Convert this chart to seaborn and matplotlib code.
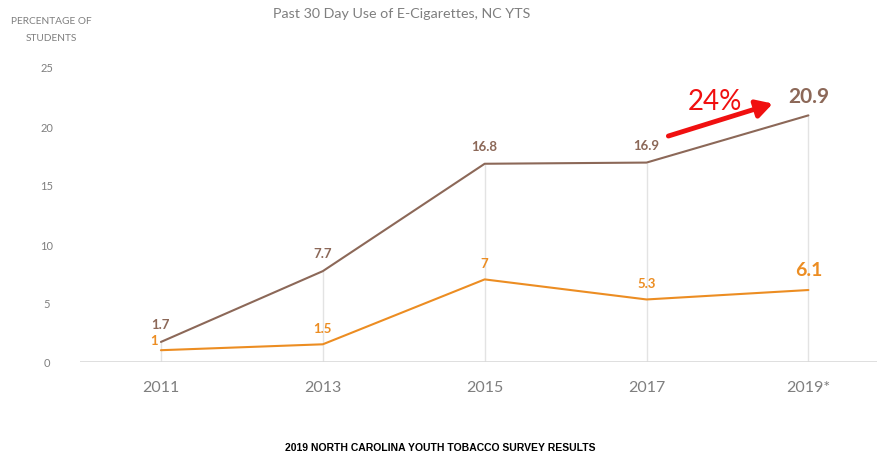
import matplotlib
matplotlib.use("Agg")
import matplotlib.pyplot as plt
import seaborn as sns
import pandas as pd

# données
years = ["2011", "2013", "2015", "2017", "2019*"]
high_school = [1.7, 7.7, 16.8, 16.9, 20.9]
middle_school = [1.0, 1.5, 7.0, 5.3, 6.1]
y_ticks = [0, 5, 10, 15, 20, 25]
increase_label = "24%"

BROWN = "#8C6858"
ORANGE = "#EC8D22"
GREY = "#7F7F7F"

sns.set_theme(style="white")
plt.rcParams["font.family"] = ["Lato", "DejaVu Sans"]

df = pd.DataFrame({
    "year": years * 2,
    "value": high_school + middle_school,
    "group": ["high"] * len(years) + ["middle"] * len(years),
})

fig = plt.figure(figsize=(8.78, 4.56), dpi=100)
ax = fig.add_axes([80 / 878, 93 / 456, 1 - 80 / 878, 295 / 456])

# lignes verticales du point le plus haut jusqu'à l'axe
tops = [max(a, b) for a, b in zip(high_school, middle_school)]
ax.vlines(range(len(years)), 0, tops, color="#E3E3E3", linewidth=1, zorder=0)
ax.axhline(0, color="#D9D9D9", linewidth=1.2, zorder=0)

sns.lineplot(data=df, x="year", y="value", hue="group",
             palette={"high": BROWN, "middle": ORANGE},
             linewidth=1.5, legend=False, ax=ax, sort=False)

ax.set_xlim(-0.5, 4.43)
ax.set_ylim(0, 25)
ax.set_yticks(y_ticks)
ax.set_yticklabels([str(t) for t in y_ticks])
ax.set_xlabel("")
ax.set_ylabel("")
for s in ax.spines.values():
    s.set_visible(False)
ax.tick_params(axis="x", length=0, pad=13, labelsize=11.5, labelcolor=GREY)
ax.tick_params(axis="y", length=0, pad=24, labelsize=8, labelcolor=GREY)
for lab in ax.get_yticklabels():
    lab.set_horizontalalignment("center")

# étiquettes de valeurs
for i, v in enumerate(high_school):
    last = i == len(years) - 1
    ax.annotate(f"{v:g}", (i, v), xytext=(0, 9 if last else 12),
                textcoords="offset pixels", ha="center", va="bottom",
                color=BROWN, fontsize=15 if last else 9.5, fontweight="bold")
for i, v in enumerate(middle_school):
    last = i == len(years) - 1
    dx, dy = (-7, 4) if i == 0 else (0, 10)
    ax.annotate(f"{v:g}", (i, v), xytext=(dx, 12 if last else dy),
                textcoords="offset pixels", ha="center", va="bottom",
                color=ORANGE, fontsize=14 if last else 9.5, fontweight="bold")

# flèche rouge d'augmentation
ax.annotate("", xy=(3.78, 21.9), xytext=(3.135, 19.15),
            arrowprops=dict(arrowstyle="-|>,head_length=0.8,head_width=0.45",
                            color="#F01010", lw=3.5, shrinkA=0, shrinkB=0))
ax.text(3.42, 21.4, increase_label, color="#F01010", fontsize=20,
        ha="center", va="baseline")

fig.text(402 / 878, 1 - 14 / 456, "Past 30 Day Use of E-Cigarettes, NC YTS",
         ha="center", va="center", color=GREY, fontsize=10.3)
fig.text(51 / 878, 1 - 30 / 456, "PERCENTAGE OF\nSTUDENTS", ha="center",
         va="center", color=GREY, fontsize=7.3, linespacing=2.1)
fig.text(440 / 878, 1 - 448 / 456, "2019 NORTH CAROLINA YOUTH TOBACCO SURVEY RESULTS",
         ha="center", va="center", color="black", fontsize=7.5,
         fontweight="bold", family="Liberation Sans")

fig.savefig("out.png", dpi=100)
